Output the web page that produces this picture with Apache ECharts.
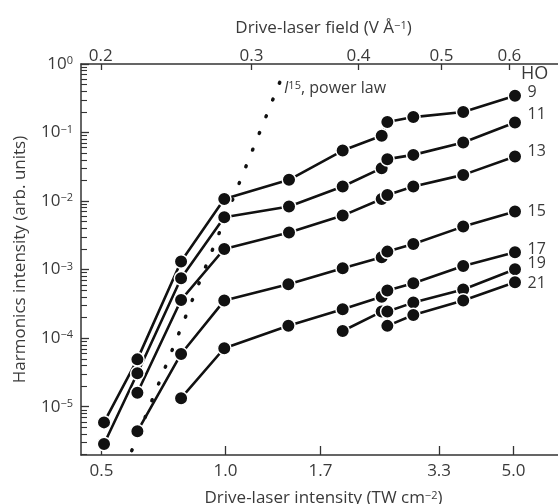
<!DOCTYPE html>
<html><head><meta charset="utf-8">
<script src="https://cdn.jsdelivr.net/npm/echarts@6.0.0/dist/echarts.min.js"></script>
<style>html,body{margin:0;padding:0;background:#fff}#c{width:558px;height:504px}</style>
</head><body><div id="c"></div>
<script>
// ---- data ----
const harmonicOrders = ['9', '11', '13', '15', '17', '19', '21'];

const ho9Intensity  = [0.507, 0.611, 0.780, 0.993, 1.426, 1.925, 2.394, 2.471, 2.857, 3.776, 5.044];
const ho9Values     = [5.9e-6, 4.9e-5, 1.31e-3, 1.07e-2, 2.04e-2, 5.46e-2, 8.95e-2, 0.142, 0.168, 0.199, 0.343];

const ho11Intensity = [0.507, 0.611, 0.780, 0.993, 1.426, 1.925, 2.394, 2.471, 2.857, 3.776, 5.044];
const ho11Values    = [2.85e-6, 3.07e-5, 7.49e-4, 5.82e-3, 8.31e-3, 1.63e-2, 3.02e-2, 4.09e-2, 4.72e-2, 7.14e-2, 0.140];

const ho13Intensity = [0.611, 0.780, 0.993, 1.426, 1.925, 2.394, 2.471, 2.857, 3.776, 5.044];
const ho13Values    = [1.60e-5, 3.61e-4, 2.00e-3, 3.47e-3, 6.14e-3, 1.07e-2, 1.23e-2, 1.63e-2, 2.41e-2, 4.46e-2];

const ho15Intensity = [0.611, 0.780, 0.993, 1.421, 1.925, 2.394, 2.471, 2.857, 3.776, 5.044];
const ho15Values    = [4.37e-6, 5.88e-5, 3.53e-4, 6.12e-4, 1.05e-3, 1.52e-3, 1.83e-3, 2.37e-3, 4.24e-3, 7.03e-3];

const ho17Intensity = [0.780, 0.993, 1.421, 1.925, 2.394, 2.471, 2.857, 3.776, 5.044];
const ho17Values    = [1.33e-5, 7.12e-5, 1.52e-4, 2.64e-4, 4.03e-4, 4.94e-4, 6.33e-4, 1.13e-3, 1.79e-3];

const ho19Intensity = [1.925, 2.394, 2.471, 2.857, 3.776, 5.044];
const ho19Values    = [1.27e-4, 2.44e-4, 2.44e-4, 3.30e-4, 5.14e-4, 1.01e-3];

const ho21Intensity = [2.471, 2.857, 3.776, 5.044];
const ho21Values    = [1.51e-4, 2.18e-4, 3.55e-4, 6.55e-4];

const powerLawIntensity = [0.592, 1.395];
const powerLawValues    = [2.28e-6, 0.842];

const intensityTicks = [0.5, 1.0, 1.7, 3.3, 5.0];
const fieldTicks     = [0.2, 0.3, 0.4, 0.5, 0.6];
const yMajorTicks    = [1e-5, 1e-4, 1e-3, 1e-2, 1e-1, 1];

// ---- layout / style ----
const FONT = 'Open Sans';
const TXT = '#3a3a3a';
const AX = '#333';
const yMin = 1.972e-6, yMax = 1;
const xMin = 0.4458, xMax = 6.708;
const fMin = 0.18964, fMax = 0.6987;

const yMinorTicks = [];
for (let e = -6; e < 0; e++) for (let m = 2; m <= 9; m++) {
  const v = m * Math.pow(10, e);
  if (v > yMin && v < yMax) yMinorTicks.push(v);
}

const seriesSets = [
  [ho9Intensity, ho9Values], [ho11Intensity, ho11Values], [ho13Intensity, ho13Values],
  [ho15Intensity, ho15Values], [ho17Intensity, ho17Values], [ho19Intensity, ho19Values],
  [ho21Intensity, ho21Values]
];
const labelDy = [-3, -8, -5, 0, -3, -6, 1];

const supRich = {
  t: { fontSize: 17, fontFamily: FONT, color: TXT },
  s: { fontSize: 11, fontFamily: FONT, color: TXT, verticalAlign: 'top' },
  i: { fontSize: 17, fontFamily: FONT, color: TXT, fontStyle: 'italic' }
};

function fmtPow(v) {
  const e = Math.round(Math.log10(v));
  return '{t|10}{s|' + (e < 0 ? '\u2212' + (-e) : e) + '}';
}

const series = seriesSets.map(function (s, k) {
  const xs = s[0], ys = s[1];
  const data = xs.map(function (x, i) {
    if (i === xs.length - 1) {
      return { value: [x, ys[i]], label: { show: true, position: 'right', distance: 5,
        offset: [0, labelDy[k]], formatter: harmonicOrders[k], fontSize: 16, fontFamily: FONT, color: TXT } };
    }
    return [x, ys[i]];
  });
  return {
    type: 'line', name: 'HO ' + harmonicOrders[k], data: data,
    xAxisIndex: 0, yAxisIndex: 0,
    symbol: 'circle', symbolSize: 13.5,
    itemStyle: { color: '#111', borderColor: '#fff', borderWidth: 1.5 },
    lineStyle: { color: '#111', width: 2.6 },
    emphasis: { disabled: true }
  };
});

series.unshift({
  type: 'line', name: 'power law', silent: true,
  data: powerLawIntensity.map(function (x, i) { return [x, powerLawValues[i]]; }),
  xAxisIndex: 0, yAxisIndex: 0, symbol: 'none',
  lineStyle: { color: '#111', width: 3.5, type: [0.9, 17.1], cap: 'round' },
  emphasis: { disabled: true }
});

const chart = echarts.init(document.getElementById('c'), null, { renderer: 'canvas' });
chart.setOption({
  animation: false,
  backgroundColor: '#fff',
  grid: { left: 81, top: 64, right: -8, bottom: 49, containLabel: false, outerBoundsMode: 'none' },
  xAxis: [
    {
      type: 'log', position: 'bottom', min: xMin, max: xMax,
      axisLine: { show: true, lineStyle: { color: AX, width: 1.5 } },
      axisTick: { show: true, inside: true, length: 9, customValues: intensityTicks, lineStyle: { color: AX, width: 1.3 } },
      axisLabel: { customValues: intensityTicks, formatter: function (v) { return (+v).toFixed(1); },
        margin: 8, fontSize: 17, fontFamily: FONT, color: TXT },
      splitLine: { show: false }, minorTick: { show: false },
      name: '{t|Drive-laser intensity (TW cm}{s|\u22122}{t|)}',
      nameLocation: 'middle', nameGap: 35,
      nameTextStyle: { rich: supRich }
    },
    {
      type: 'log', position: 'top', min: fMin, max: fMax,
      axisLine: { show: true, lineStyle: { color: AX, width: 1.5 } },
      axisTick: { show: true, inside: true, length: 6, customValues: fieldTicks, lineStyle: { color: AX, width: 1.3 } },
      axisLabel: { customValues: fieldTicks, formatter: function (v) { return (+v).toFixed(1); },
        margin: -1, fontSize: 17, fontFamily: FONT, color: TXT },
      splitLine: { show: false }, minorTick: { show: false },
      name: '{t|Drive-laser field (V \u00C5}{s|\u22121}{t|)}',
      nameLocation: 'middle', nameGap: 27,
      nameTextStyle: { rich: supRich }
    }
  ],
  yAxis: [
    {
      type: 'log', position: 'left', min: yMin, max: yMax,
      axisLine: { show: true, lineStyle: { color: AX, width: 1.5 } },
      axisTick: { show: true, inside: true, length: 8, customValues: yMajorTicks, lineStyle: { color: AX, width: 1.3 } },
      axisLabel: { customValues: yMajorTicks, formatter: fmtPow, margin: 8, rich: supRich },
      splitLine: { show: false }, minorTick: { show: false },
      name: 'Harmonics intensity (arb. units)',
      nameLocation: 'middle', nameGap: 52, nameRotate: 90,
      nameTextStyle: { fontSize: 17, fontFamily: FONT, color: TXT }
    },
    {
      type: 'log', position: 'left', min: yMin, max: yMax,
      axisLine: { show: false },
      axisTick: { show: true, inside: true, length: 6, customValues: yMinorTicks, lineStyle: { color: AX, width: 1.1 } },
      axisLabel: { show: false },
      splitLine: { show: false }, minorTick: { show: false }
    }
  ],
  graphic: [
    { type: 'text', left: 521, top: 65, silent: true,
      style: { text: 'HO', fontSize: 18, fontFamily: FONT, fill: TXT } },
    { type: 'text', left: 284, top: 80, silent: true,
      style: { text: '{i|I}{s|15}{t|, power law}', rich: {
        t: { fontSize: 16, fontFamily: FONT, fill: TXT, color: TXT },
        s: { fontSize: 11, fontFamily: FONT, fill: TXT, color: TXT, verticalAlign: 'top' },
        i: { fontSize: 16, fontFamily: FONT, fill: TXT, color: TXT, fontStyle: 'italic' }
      } } }
  ],
  series: series
});
</script>
</body></html>
